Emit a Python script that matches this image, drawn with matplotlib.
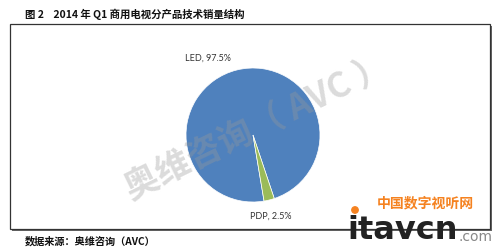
import matplotlib
matplotlib.use("Agg")
import matplotlib.pyplot as plt
from matplotlib.patches import Rectangle, Circle

plt.rcParams['font.family'] = ['Noto Sans CJK SC', 'DejaVu Sans']

categories = ["LED", "PDP"]
shares = [97.5, 2.5]
colors = ["#4F81BD", "#9BBB59"]
title = "图 2    2014 年 Q1 商用电视分产品技术销量结构"
source = "数据来源：奥维咨询（AVC）"
watermark = "奥维咨询（ AVC ）"

W, H = 500, 253
fig = plt.figure(figsize=(W / 100, H / 100), dpi=100)
bg = fig.add_axes([0, 0, 1, 1])
bg.set_xlim(0, W)
bg.set_ylim(H, 0)
bg.axis('off')

# frame with shadow
bg.add_patch(Rectangle((12, 27), 480, 205, facecolor='#666666', edgecolor='none', zorder=1))
bg.add_patch(Rectangle((10, 25), 480, 205, facecolor='white', edgecolor='#333333', lw=0.9, zorder=2))

bg.text(25, 14, title, fontsize=7.5, fontweight='bold', va='center', ha='left', color='#111111')
bg.text(25, 241, source, fontsize=7.3, fontweight='bold', va='center', ha='left', color='#111111')

# pie
cx, cy, r = 253, 136, 67
pax = fig.add_axes([(cx - r) / W, (H - cy - r) / H, 2 * r / W, 2 * r / H])
wedges, _ = pax.pie(shares, colors=colors, startangle=-80.5, counterclock=False,
                    wedgeprops=dict(linewidth=0.5, edgecolor='white'))
pax.set_xlim(-1, 1)
pax.set_ylim(-1, 1)
pax.set_zorder(3)
pax.axis('off')

bg.text(208, 58, f"{categories[0]}, {shares[0]}%", fontsize=6.5, family=['Lato', 'DejaVu Sans'],
        ha='center', va='center', color='#333333', zorder=4)
bg.text(271, 216, f"{categories[1]}, {shares[1]}%", fontsize=6.5, family=['Lato', 'DejaVu Sans'],
        ha='center', va='center', color='#333333', zorder=4)

# watermark overlay
ov = fig.add_axes([0, 0, 1, 1])
ov.set_xlim(0, W)
ov.set_ylim(H, 0)
ov.axis('off')
ov.set_zorder(5)
ov.text(258, 128, watermark, fontsize=25, fontweight='bold', rotation=26,
        ha='center', va='center', color='#999999', alpha=0.35)

# logo
ov.text(425, 203, "中国数字视听网", fontsize=10, fontweight='bold', style='italic',
        color='#F58220', ha='center', va='center')
ov.add_patch(Circle((355, 211), 3.2, color='#F58220'))
ov.text(347, 231, "itavcn", fontsize=23, fontweight='bold', family=['DejaVu Sans'],
        color='#222222', ha='left', va='center')
ov.text(458, 237, ".com", fontsize=10, family=['DejaVu Sans'],
        color='#888888', ha='left', va='center')

fig.savefig("out.png", dpi=100)
